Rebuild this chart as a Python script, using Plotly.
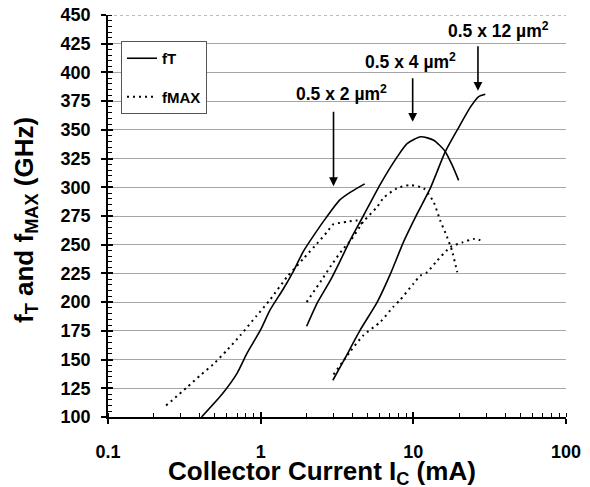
import numpy as np
import plotly.graph_objects as go

# ---- data ----
ft_2_x = [0.41, 0.56, 0.70, 0.81, 1.0, 1.15, 1.4, 1.64, 1.9, 2.2, 2.7, 3.3, 3.9, 4.8]
ft_2_y = [100, 120, 138, 155, 176, 193, 211, 227, 244, 257, 274, 289, 296, 303]
fmax_2_x = [0.24, 0.33, 0.40, 0.49, 0.60, 0.735, 0.94, 1.15, 1.49, 1.91, 2.34, 2.72, 3.0, 3.3, 3.7, 4.3, 4.8]
fmax_2_y = [110, 126, 136, 146, 158, 171, 188, 202, 222, 238, 251, 261, 268, 269, 270, 271, 266]

ft_4_x = [2.0, 2.34, 2.86, 3.32, 3.86, 4.7, 6.1, 7.8, 9.1, 11.2, 13.6, 16.0, 18.0, 19.8]
ft_4_y = [179, 199, 219, 236, 254, 275, 303, 326, 338, 344, 341, 332, 319, 306]
fmax_4_x = [2.0, 2.5, 2.9, 3.4, 3.9, 4.7, 5.8, 6.4, 7.8, 9.5, 11.7, 13.6, 15.0, 16.6, 17.9, 19.4]
fmax_4_y = [200, 219, 232, 245, 254, 270, 283, 291, 299, 302, 299, 287, 271, 257, 245, 226]

ft_12_x = [2.97, 3.5, 4.5, 5.8, 7.1, 8.6, 10.6, 12.9, 16.2, 19.8, 23.7, 26.8, 29.6]
ft_12_y = [132, 149, 176, 200, 225, 252, 277, 299, 331, 352, 370, 379, 381]
fmax_12_x = [3.0, 3.86, 4.7, 6.1, 7.4, 8.2, 10.0, 11.1, 12.3, 14.3, 17.5, 21.0, 24.9, 27.5]
fmax_12_y = [137, 157, 171, 183, 196, 202, 216, 223, 226, 236, 248, 252, 255, 254]

device_labels = ["0.5 x 2 µm<sup>2</sup>", "0.5 x 4 µm<sup>2</sup>", "0.5 x 12 µm<sup>2</sup>"]
label_pos_x = [3.38, 9.55, 36.0]
label_pos_y = [382, 410, 437]
arrow_tip_x = [3.0, 9.9, 26.5]
arrow_tip_y = [301, 357, 384]
arrow_len_px = [76, 45, 46]

x_tick_vals = [0.1, 1, 10, 100]
x_tick_text = ["0.1", "1", "10", "100"]
y_tick_vals = list(range(100, 451, 25))
y_top = 450

x_title = "Collector Current I<sub>C</sub> (mA)"
y_title = "f<sub>T</sub> and f<sub>MAX</sub> (GHz)"

FONT = "Liberation Sans, Arial, sans-serif"

# the page body adds an 8px offset; layout below is in figure pixels
OFF = 8
W, H = 590, 487
ML, MT = 108 - OFF, 15 - OFF
PW, PH = 458, 402
MR, MB = W - ML - PW, H - MT - PH


def px(xp):
    return (xp - OFF - ML) / PW


def py(yp):
    return (H - MB - (yp - OFF)) / PH


fig = go.Figure()

series = [
    (ft_2_x, ft_2_y, "solid", "fT", True),
    (fmax_2_x, fmax_2_y, "2px,4px", "fMAX", True),
    (ft_4_x, ft_4_y, "solid", "fT", False),
    (fmax_4_x, fmax_4_y, "2px,4px", "fMAX", False),
    (ft_12_x, ft_12_y, "solid", "fT", False),
    (fmax_12_x, fmax_12_y, "2px,4px", "fMAX", False),
]
for xs, ys, dash, name, show in series:
    fig.add_trace(go.Scatter(
        x=xs, y=ys, mode="lines", name=name, legendgroup=name, showlegend=show,
        line=dict(color="black", width=1.6 if dash == "solid" else 2.0, dash=dash,
                  shape="spline", smoothing=0.6),
    ))

# empty trace so the overlay axes (inner halves of major ticks) exist
fig.add_trace(go.Scatter(x=[], y=[], xaxis="x2", yaxis="y2", showlegend=False))

# top border line of the plot area (thin dotted)
fig.add_shape(type="line", xref="paper", yref="y", x0=0, x1=1, y0=y_top, y1=y_top,
              line=dict(color="#777777", width=1, dash="dot"), layer="below")

for i in range(3):
    fig.add_annotation(x=np.log10(label_pos_x[i]), y=label_pos_y[i], xref="x", yref="y",
                       text=device_labels[i], showarrow=False,
                       font=dict(family=FONT, size=17.5, color="black", weight="bold"))
    fig.add_annotation(x=np.log10(arrow_tip_x[i]), y=arrow_tip_y[i], xref="x", yref="y",
                       text="", showarrow=True, ax=0, ay=-arrow_len_px[i],
                       arrowhead=2, arrowsize=1.1, arrowwidth=1.6, arrowcolor="black",
                       standoff=0, startstandoff=0)

# axis titles placed as paper annotations
fig.add_annotation(x=px(322), y=py(472), xref="paper", yref="paper",
                   text=x_title, showarrow=False, xanchor="center", yanchor="middle",
                   font=dict(family=FONT, size=26, color="black", weight="bold"))
fig.add_annotation(x=px(26), y=py(220), xref="paper", yref="paper",
                   text=y_title, showarrow=False, textangle=-90, xanchor="center", yanchor="middle",
                   font=dict(family=FONT, size=26, color="black", weight="bold"))

fig.update_layout(
    width=W, height=H,
    margin=dict(l=ML, r=MR, t=MT, b=MB, autoexpand=False),
    paper_bgcolor="white", plot_bgcolor="white",
    font=dict(family=FONT, color="black"),
    showlegend=True,
    legend=dict(x=px(121), y=py(41), xanchor="left", yanchor="top",
                bordercolor="#555555", borderwidth=1, bgcolor="white",
                font=dict(family=FONT, size=15, color="black", weight="bold"),
                tracegroupgap=16, itemwidth=30),
    xaxis=dict(type="log", range=[-1, 2], tickvals=x_tick_vals, ticktext=x_tick_text,
               automargin=False, ticklabeloverflow="allow",
               showgrid=False, zeroline=False, showline=True, linecolor="black", linewidth=1.5,
               ticks="outside", ticklen=5, tickwidth=1.5, tickcolor="black",
               ticklabelstandoff=13,
               minor=dict(ticks="inside", ticklen=4, tickwidth=1, tickcolor="black", dtick="D1"),
               tickfont=dict(family=FONT, size=18, weight="bold")),
    yaxis=dict(range=[100, 450], tickvals=y_tick_vals, automargin=False,
               ticklabeloverflow="allow",
               showgrid=True, gridcolor="#a6a6a6", gridwidth=1, zeroline=False,
               showline=True, linecolor="black", linewidth=1.5,
               ticks="outside", ticklen=5, tickwidth=1.5, tickcolor="black",
               ticklabelstandoff=7,
               minor=dict(ticks="inside", ticklen=4, tickwidth=1, tickcolor="black", dtick=5),
               tickfont=dict(family=FONT, size=18, weight="bold")),
    xaxis2=dict(type="log", range=[-1, 2], overlaying="x", anchor="y2", side="bottom",
                automargin=False,
                tickvals=x_tick_vals, ticks="inside", ticklen=5, tickwidth=1.5, tickcolor="black",
                showticklabels=False, showgrid=False, zeroline=False, showline=False),
    yaxis2=dict(range=[100, 450], overlaying="y", anchor="x2", side="left", automargin=False,
                tickvals=y_tick_vals, ticks="inside", ticklen=5, tickwidth=1.5, tickcolor="black",
                showticklabels=False, showgrid=False, zeroline=False, showline=False),
)

fig.write_html("out.html")
